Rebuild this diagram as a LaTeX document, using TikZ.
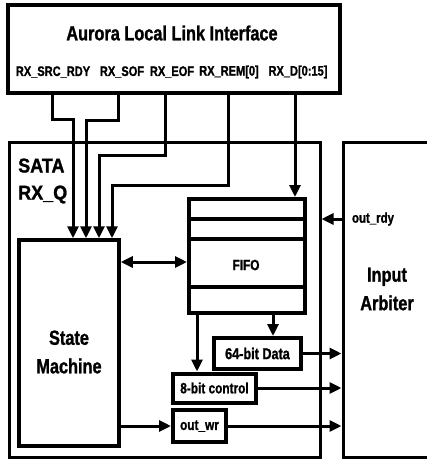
\documentclass[tikz,border=0pt]{standalone}
\usepackage{fontspec}
\setmainfont{Liberation Sans}[FakeStretch=0.8,FakeBold=1.2]
\newfontfamily\widesf{Liberation Sans}[FakeStretch=0.9,FakeBold=1.2]
\usetikzlibrary{arrows.meta,positioning}

\begin{document}
\begin{tikzpicture}[x=1pt,y=-1pt,
  blk/.style={draw,line width=3.5pt,inner sep=0pt},
  reg/.style={draw,line width=4pt,inner sep=0pt,font=\fontsize{14.8}{17}\selectfont\bfseries},
  wire/.style={line width=3pt},
  sig/.style={wire,-{Triangle[length=12pt,width=11pt]}},
  dsig/.style={wire,{Triangle[length=12pt,width=11pt]}-{Triangle[length=12pt,width=11pt]}},
  sname/.style={font=\fontsize{13.8}{16}\selectfont\bfseries,inner sep=0pt},
  big/.style={font=\fontsize{20.4}{28.5}\selectfont\bfseries,align=center,inner sep=0pt}]
\useasboundingbox (0,0) rectangle (427,461);
% ---- Aurora local link interface (top) ----
\node[blk,minimum width=332pt,minimum height=88pt] (aurora) at (174,49) {};
\node[big] (title) at (172,33) {Aurora Local Link Interface};
\node[sname] (srcrdy) at (53,72) {RX\_SRC\_RDY};
\node[sname] (sof) at (122,72) {RX\_SOF};
\node[sname] (eof) at (172,72) {RX\_EOF};
\node[sname] (rem) at (229,72) {RX\_REM[0]};
\node[sname] (rxd) at (298,72) {RX\_D[0:15]};
\coordinate (a1) at (52,93);
\coordinate (a2) at (118,93);
\coordinate (a3) at (165,93);
\coordinate (a4) at (228,93);
\coordinate (a5) at (295,93);
% ---- SATA RX_Q block and input arbiter ----
\node[blk,line width=3pt,minimum width=311pt,minimum height=315pt] (sata) at (164.5,299.5) {};
\node[anchor=west,align=left,inner sep=0pt,font=\widesf\fontsize{20}{27}\selectfont\bfseries] (satalbl) at (18,181) {SATA\\RX\_Q};
\node[blk,line width=3pt,minimum width=88pt,minimum height=315pt] (arbiter) at (387,299.5) {};
\node[big] (arblbl) at (387,289) {Input\\Arbiter};
\node[font=\fontsize{14.3}{16}\selectfont\bfseries,inner sep=0pt] (rdylbl) at (373,219) {out\_rdy};
% ---- state machine, fifo, output registers ----
\node[blk,minimum width=100pt,minimum height=206pt] (sm) at (69,343) {};
\node[big] (smlbl) at (69,352) {State\\Machine};
\node[blk,line width=4pt,minimum width=116pt,minimum height=114pt] (fifo) at (247,256) {};
\foreach \dy in {22,42,90}
  \draw[line width=4pt] ([yshift=-\dy pt]fifo.north west) -- ([yshift=-\dy pt]fifo.north east);
\node[font=\fontsize{14.8}{17}\selectfont\bfseries,inner sep=0pt] (fifolbl) at (246,265) {FIFO};
\node[reg,minimum width=87pt,minimum height=31pt,font=\fontsize{15.8}{18}\selectfont\bfseries] (data) at (257.5,353.5) {64-bit Data};
\node[reg,minimum width=83pt,minimum height=29pt] (ctrl) at (214.5,388) {8-bit control};
\node[reg,minimum width=53pt,minimum height=32pt] (outwr) at (199.5,426) {out\_wr};
% ---- connectors ----
\draw[sig] (a1) -- ++(0,26) -| ([xshift=4pt]sm.north);
\draw[sig] (a2) -- ++(0,27) -| ([xshift=17pt]sm.north);
\draw[sig] (a3) -- ++(0,62) -| ([xshift=30pt]sm.north);
\draw[sig] (a4) -- ++(0,92) -| ([xshift=43pt]sm.north);
\draw[sig] (a5) -- (a5 |- fifo.north);
\draw[dsig] (sm.east |- 0,262) -- (fifo.west |- 0,262);
\draw[sig] (rdylbl.west -| arbiter.west) -- (rdylbl.west -| sata.east);
\draw[sig] ([xshift=10pt]fifo.south west) -- ([xshift=10pt]fifo.south west |- ctrl.north);
\draw[sig] ([xshift=86pt]fifo.south west) -- ([xshift=86pt]fifo.south west |- data.north);
\draw[sig] (data.east) -- (data.east -| arbiter.west);
\draw[sig] (ctrl.east) -- (ctrl.east -| arbiter.west);
\draw[sig] (sm.east |- outwr.west) -- (outwr.west);
\draw[sig] (outwr.east) -- (outwr.east -| arbiter.west);
\end{tikzpicture}
\end{document}
